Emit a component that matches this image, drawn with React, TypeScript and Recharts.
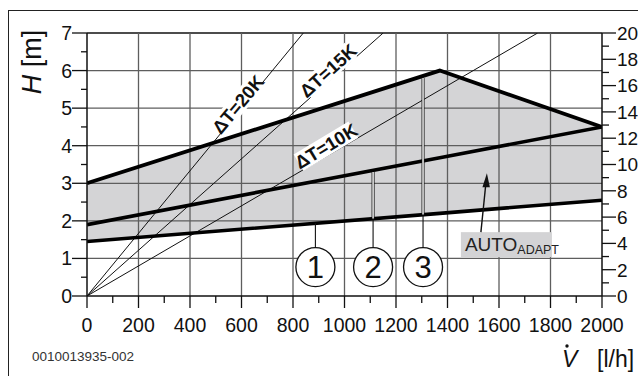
import React from "react";
import {
  Area,
  ComposedChart,
  Line,
  ReferenceDot,
  ReferenceLine,
  XAxis,
  YAxis,
} from "recharts";

// pump curves (V in l/h, H in m)
const flow = [0, 1370, 2000];
const curve1 = [1.45, 2.2, 2.55];
const curve2 = [1.9, 3.68, 4.5];
const curve3 = [3.0, 6.0, 4.5];

// ΔT lines start at the origin and leave the plot at H = 7 m
const dtNames = ["ΔT=20K", "ΔT=15K", "ΔT=10K"];
const dtFlowAtTop = [840, 1150, 1750];
const dtTopH = 7;

// callouts 1..3
const markerNames = ["1", "2", "3"];
const markerFlow = [887, 1111, 1305];
const markerTopH = [1.94, 3.3, 5.8];
const markerBandH = [1.94, 2.06, 2.17];
const markerCircleH = 0.77;

const xTicks = [
  0, 100, 200, 300, 400, 500, 600, 700, 800, 900, 1000, 1100, 1200, 1300, 1400, 1500, 1600, 1700,
  1800, 1900, 2000,
];
const xGrid = [200, 400, 600, 800, 1000, 1200, 1400, 1600, 1800];
const hTicks = [0, 0.5, 1, 1.5, 2, 2.5, 3, 3.5, 4, 4.5, 5, 5.5, 6, 6.5, 7];
const hGrid = [1, 2, 3, 4, 5, 6];
const kpaTicks = [0, 1, 2, 3, 4, 5, 6, 7, 8, 9, 10, 11, 12, 13, 14, 15, 16, 17, 18, 19, 20];

const FONT = "'Liberation Sans', Arial, Helvetica, sans-serif";
const NARROW = "'Liberation Sans Narrow', 'Liberation Sans', Arial, sans-serif";
const INK = "#111";
const GRID = "#5e5e5e";

const XTick = (props: any) => {
  const { x, y, payload } = props;
  const v = payload.value;
  const major = v % 200 === 0;
  return (
    <g>
      <line x1={x} y1={y} x2={x} y2={y + (major ? 12 : 7)} stroke={INK} strokeWidth={1.3} />
      {major && (
        <text x={x} y={y + 36} textAnchor="middle" fontSize={19.5} fontFamily={FONT} fill={INK}>
          {v}
        </text>
      )}
    </g>
  );
};

const LeftTick = (props: any) => {
  const { x, y, payload } = props;
  const v = payload.value;
  const major = Number.isInteger(v);
  return (
    <g>
      <line x1={x - (major ? 15 : 6)} y1={y} x2={x} y2={y} stroke={INK} strokeWidth={1.3} />
      {major && (
        <text x={x - 15} y={y} dy="0.36em" textAnchor="end" fontSize={19.5} fontFamily={FONT} fill={INK}>
          {v}
        </text>
      )}
    </g>
  );
};

const RightTick = (props: any) => {
  const { x, y, payload } = props;
  const v = payload.value;
  const major = v % 2 === 0;
  return (
    <g>
      <line x1={x} y1={y} x2={x + (major ? 14 : 7)} y2={y} stroke={INK} strokeWidth={1.3} />
      {major && (
        <text x={x + 15} y={y} dy="0.36em" textAnchor="start" fontSize={19} fontFamily={FONT} fill={INK}>
          {v}
        </text>
      )}
    </g>
  );
};

const dtLabelAt = [
  { x: 586, h: 5.1, angle: 50, w: 62 },
  { x: 936, h: 6.0, angle: 42, w: 62 },
  { x: 928, h: 3.99, angle: 31, w: 64 },
];

const DtLabel = (props: any) => {
  const { cx, cy, text, angle, w } = props;
  return (
    <g transform={`translate(${cx},${cy}) rotate(${-angle})`}>
      <rect x={-w / 2} y={-9.5} width={w} height={19} fill="#fff" />
      <text
        textAnchor="middle"
        dy="0.36em"
        fontSize={18.5}
        fontWeight="bold"
        fontFamily={NARROW}
        fill={INK}
      >
        {text}
      </text>
    </g>
  );
};

const Marker = (props: any) => {
  const { cx, cy, text } = props;
  return (
    <g>
      <circle cx={cx} cy={cy} r={19.5} fill="#fff" stroke={INK} strokeWidth={1.3} />
      <text x={cx} y={cy} dy="0.36em" textAnchor="middle" fontSize={31} fontFamily={FONT} fill={INK}>
        {text}
      </text>
    </g>
  );
};

// arrow tip sits on the band, box hangs below it
const AutoAdapt = (props: any) => {
  const { cx, cy } = props;
  return (
    <g>
      <rect x={cx - 26} y={cy + 59} width={91} height={25} fill="#d3d3d5" />
      <text x={cx - 22} y={cy + 78} fontFamily={NARROW} fontSize={19} fill="#222">
        AUTO
        <tspan fontSize={12.5} dy={3}>
          ADAPT
        </tspan>
      </text>
      <line x1={cx - 6} y1={cy + 59} x2={cx - 1} y2={cy + 10} stroke={INK} strokeWidth={1.4} />
      <path d={`M ${cx} ${cy} L ${cx - 4.5} ${cy + 14} L ${cx + 3} ${cy + 14} Z`} fill={INK} />
    </g>
  );
};

export default function App() {
  const table = flow.map((x, i) => ({
    x,
    c1: curve1[i],
    c2: curve2[i],
    c3: curve3[i],
    band: [curve1[i], curve3[i]],
  }));
  const dtData = dtFlowAtTop.map((f) => [
    { x: 0, h: 0 },
    { x: f, h: dtTopH },
  ]);
  // grid drawn as plain two-point paths through the chart scales
  const gridRows = hGrid.map((h) => [
    { x: 0, h },
    { x: 2000, h },
  ]);
  const gridCols = xGrid.map((v) => [
    { x: v, h: 0 },
    { x: v, h: 7 },
  ]);

  return (
    <div
      style={{
        position: "absolute",
        left: 0,
        top: 0,
        width: 638,
        height: 376,
        overflow: "hidden",
        background: "#fff",
        fontFamily: FONT,
      }}
    >
      <div
        style={{
          position: "absolute",
          left: 8,
          top: 10,
          width: 700,
          height: 500,
          border: "1.5px solid #222",
        }}
      />
      <div style={{ position: "absolute", left: 0, top: 0 }}>
        <ComposedChart width={638} height={376} data={table} margin={{ top: 33, right: 0, bottom: 0, left: 0 }}>
          <Area
            dataKey="band"
            type="linear"
            stroke="none"
            fill="#d4d4d6"
            fillOpacity={1}
            isAnimationActive={false}
          />
          <XAxis
            dataKey="x"
            type="number"
            domain={[0, 2000]}
            allowDataOverflow
            ticks={xTicks}
            interval={0}
            height={80}
            tickSize={0}
            tickMargin={0}
            tickLine={false}
            tick={<XTick />}
            axisLine={{ stroke: INK, strokeWidth: 1.5 }}
          />
          <YAxis
            type="number"
            domain={[0, 7]}
            allowDataOverflow
            ticks={hTicks}
            interval={0}
            width={87}
            tickSize={0}
            tickMargin={0}
            tickLine={false}
            tick={<LeftTick />}
            axisLine={{ stroke: INK, strokeWidth: 1.5 }}
          />
          <YAxis
            yAxisId="r"
            orientation="right"
            type="number"
            domain={[0, 20]}
            allowDataOverflow
            ticks={kpaTicks}
            interval={0}
            width={36}
            tickSize={0}
            tickMargin={0}
            tickLine={false}
            tick={<RightTick />}
            axisLine={{ stroke: INK, strokeWidth: 1.5 }}
          />
          <ReferenceLine y={7} stroke={INK} strokeWidth={1.3} />

          {gridRows.map((d, i) => (
            <Line
              key={"gr" + hGrid[i]}
              data={d}
              dataKey="h"
              type="linear"
              stroke={GRID}
              strokeWidth={1.3}
              dot={false}
              activeDot={false}
              isAnimationActive={false}
            />
          ))}
          {gridCols.map((d, i) => (
            <Line
              key={"gc" + xGrid[i]}
              data={d}
              dataKey="h"
              type="linear"
              stroke={GRID}
              strokeWidth={1.3}
              dot={false}
              activeDot={false}
              isAnimationActive={false}
            />
          ))}

          {dtData.map((d, i) => (
            <Line
              key={dtNames[i]}
              data={d}
              dataKey="h"
              type="linear"
              stroke={INK}
              strokeWidth={1}
              dot={false}
              activeDot={false}
              isAnimationActive={false}
            />
          ))}
          <Line dataKey="c1" type="linear" stroke="#000" strokeWidth={3.6} dot={false} isAnimationActive={false} />
          <Line dataKey="c2" type="linear" stroke="#000" strokeWidth={3.6} dot={false} isAnimationActive={false} />
          <Line dataKey="c3" type="linear" stroke="#000" strokeWidth={3.8} dot={false} isAnimationActive={false} />

          {markerNames.map((n, i) => (
            <ReferenceLine
              key={"lead" + n}
              segment={[
                { x: markerFlow[i], y: markerCircleH },
                { x: markerFlow[i], y: markerBandH[i] },
              ]}
              stroke={INK}
              strokeWidth={1.1}
              ifOverflow="visible"
            />
          ))}
          {markerNames.slice(1).map((n, j) => {
            const i = j + 1;
            return (
              <React.Fragment key={"band" + n}>
                <ReferenceLine
                  segment={[
                    { x: markerFlow[i], y: markerBandH[i] },
                    { x: markerFlow[i], y: markerTopH[i] },
                  ]}
                  stroke={INK}
                  strokeWidth={3}
                  ifOverflow="visible"
                />
                <ReferenceLine
                  segment={[
                    { x: markerFlow[i], y: markerBandH[i] },
                    { x: markerFlow[i], y: markerTopH[i] },
                  ]}
                  stroke="#fff"
                  strokeWidth={1.4}
                  ifOverflow="visible"
                />
              </React.Fragment>
            );
          })}

          {dtNames.map((name, i) => (
            <ReferenceDot
              key={name}
              x={dtLabelAt[i].x}
              y={dtLabelAt[i].h}
              r={0}
              ifOverflow="visible"
              shape={(p: any) => (
                <DtLabel {...p} text={name} angle={dtLabelAt[i].angle} w={dtLabelAt[i].w} />
              )}
            />
          ))}
          {markerNames.map((n, i) => (
            <ReferenceDot
              key={"m" + n}
              x={markerFlow[i]}
              y={markerCircleH}
              r={19}
              ifOverflow="visible"
              shape={(p: any) => <Marker {...p} text={n} />}
            />
          ))}
          <ReferenceDot
            x={1553}
            y={3.27}
            r={0}
            ifOverflow="visible"
            shape={(p: any) => <AutoAdapt {...p} />}
          />
        </ComposedChart>
      </div>
      <svg
        width={638}
        height={376}
        style={{ position: "absolute", left: 0, top: 0, pointerEvents: "none" }}
      >
        <text
          transform="translate(31,62) rotate(-90)"
          textAnchor="middle"
          dy="0.36em"
          fontSize={27}
          fontFamily={FONT}
          fill={INK}
        >
          <tspan fontStyle="italic">H</tspan> [m]
        </text>
        <text x={562} y={367} fontSize={23} fontFamily={FONT} fill={INK}>
          <tspan fontStyle="italic">V</tspan>
          <tspan x={597}>[l/h]</tspan>
        </text>
        <circle cx={567} cy={346} r={1.7} fill={INK} />
        <text x={32} y={361} fontSize={13.5} fontFamily={FONT} fill="#333">
          0010013935-002
        </text>
      </svg>
    </div>
  );
}
